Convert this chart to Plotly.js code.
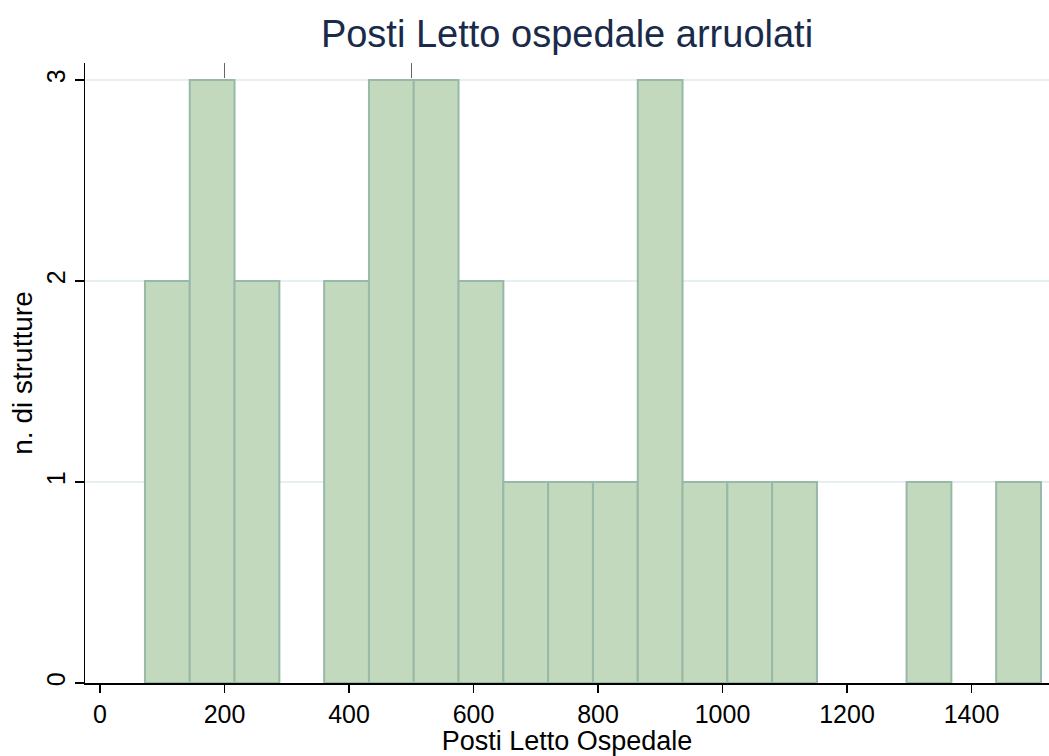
<!DOCTYPE html>
<html>
<head>
<meta charset="utf-8">
<script src="https://cdn.plot.ly/plotly-3.0.1.min.js"></script>
<style>html,body{margin:0;padding:0;background:#fff;}#chart{width:1049px;height:756px;}</style>
</head>
<body>
<div id="chart"></div>
<script>
// Histogram data
const binStart = 72.2;
const binWidth = 71.97;
const counts = [2, 3, 2, 0, 2, 3, 3, 2, 1, 1, 1, 3, 1, 1, 1, 0, 0, 1, 0, 1];
const xTickVals = [0, 200, 400, 600, 800, 1000, 1200, 1400];
const yTickVals = [0, 1, 2, 3];
const topTickVals = [200, 500];

const centers = counts.map((c, i) => binStart + binWidth * (i + 0.5));

const trace = {
  type: 'bar',
  x: centers,
  y: counts,
  width: counts.map(() => binWidth),
  marker: {color: '#c2d9bd', line: {color: '#98b8a8', width: counts.map(c => c > 0 ? 2 : 0)}},
  hoverinfo: 'x+y'
};

const xr = [-24.1, 1524.5];
const layout = {
  width: 1049, height: 756,
  margin: {l: 85, r: 0, t: 63, b: 73},
  paper_bgcolor: '#ffffff', plot_bgcolor: '#ffffff',
  font: {family: 'Liberation Sans, Arial, sans-serif', color: '#000'},
  bargap: 0,
  showlegend: false,
  title: {text: 'Posti Letto ospedale arruolati', font: {size: 38, color: '#1a2a4a'},
          x: 0.5, xref: 'paper', xanchor: 'center', y: 0.955, yanchor: 'middle'},
  xaxis: {
    range: xr, tickvals: xTickVals, ticktext: xTickVals.map(String),
    showgrid: false, zeroline: false, showline: true, linecolor: '#000', linewidth: 1.5,
    ticks: 'outside', ticklen: 8, tickwidth: 1.5, tickcolor: '#000',
    tickfont: {size: 25, color: '#000'},
    title: {text: 'Posti Letto Ospedale', font: {size: 27, color: '#000'}, standoff: 0}
  },
  xaxis2: {
    overlaying: 'x', side: 'top', anchor: 'y', range: xr, tickvals: topTickVals,
    showticklabels: false, showgrid: false, zeroline: false, showline: false,
    ticks: 'inside', ticklen: 15, tickwidth: 1.5, tickcolor: '#666'
  },
  yaxis: {
    range: [0, 3.085], tickvals: yTickVals, ticktext: yTickVals.map(String),
    showgrid: true, gridcolor: '#e6eff2', gridwidth: 1.5, zeroline: false,
    showline: true, linecolor: '#000', linewidth: 1.5,
    ticks: 'outside', ticklen: 9, tickwidth: 1.5, tickcolor: '#000',
    tickangle: -90, tickfont: {size: 25, color: '#000'},
    title: {text: 'n. di strutture', font: {size: 28, color: '#000'}, standoff: 0}
  }
};

const dummy = {type: 'scatter', x: [], y: [], xaxis: 'x2', yaxis: 'y', hoverinfo: 'skip', showlegend: false};

Plotly.newPlot('chart', [trace, dummy], layout, {displayModeBar: false, staticPlot: true});
</script>
</body>
</html>
